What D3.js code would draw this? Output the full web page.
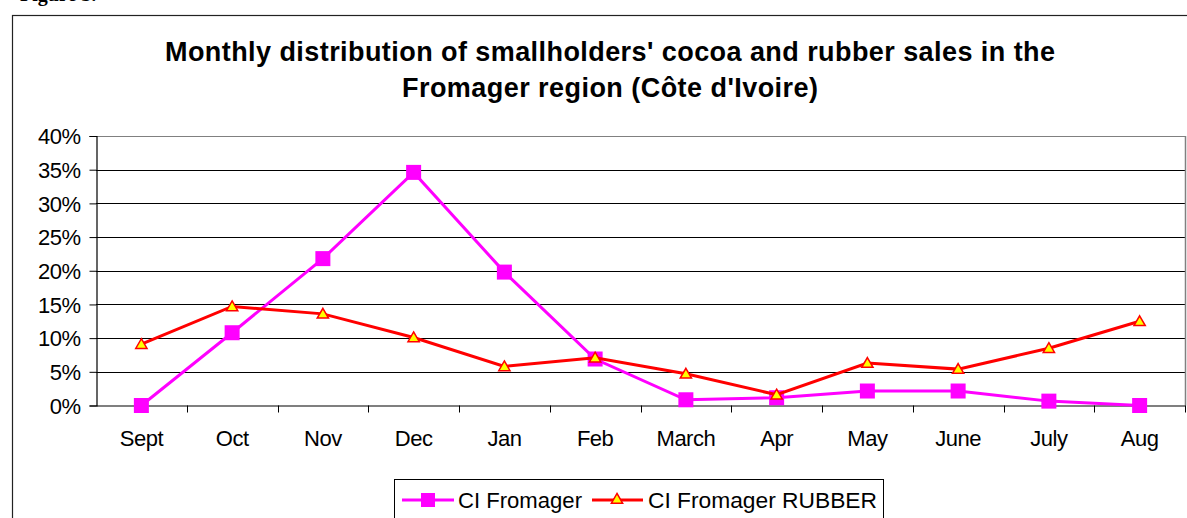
<!DOCTYPE html>
<html><head><meta charset="utf-8">
<script src="https://cdn.jsdelivr.net/npm/d3@7"></script>
<style>
html,body{margin:0;padding:0;background:#fff;overflow:hidden}
text{font-family:"Liberation Sans",Arial,sans-serif}
</style></head>
<body>
<svg id="c" width="1187" height="518"></svg>
<script>
const months = ["Sept","Oct","Nov","Dec","Jan","Feb","March","Apr","May","June","July","Aug"];
const cocoa  = [0, 10.8, 21.8, 34.6, 19.8, 6.9, 0.85, 1.15, 2.15, 2.15, 0.65, 0];
const rubber = [9.1, 14.7, 13.6, 10.1, 5.8, 7.1, 4.7, 1.6, 6.3, 5.4, 8.5, 12.5];
const yTicks = [0,5,10,15,20,25,30,35,40];
const seriesNames = ["CI Fromager","CI Fromager RUBBER"];
const titleLines = ["Monthly distribution of smallholders' cocoa and rubber sales in the","Fromager region (Côte d'Ivoire)"];

const svg = d3.select("#c");
const L = 96, R = 1185, T = 136, B = 405.5;

// Figure caption (cut off at top in the original)
svg.append("text").attr("x",20).attr("y",1)
  .style("font-family","'Liberation Serif',serif").style("font-weight","bold").style("font-size","20px")
  .text("Figure 3.");

// outer chart border
svg.append("rect").attr("x",12.5).attr("y",15.5).attr("width",1200).attr("height",600)
  .attr("fill","none").attr("stroke","#222").attr("stroke-width",1.2);

// title
const tl = [{t:titleLines[0],y:61,x0:165,x1:1055},{t:titleLines[1],y:97,x0:402,x1:818}];
tl.forEach(d=>{
  svg.append("text").attr("x",d.x0).attr("y",d.y)
    .attr("textLength",d.x1-d.x0).attr("lengthAdjust","spacing")
    .style("font-weight","bold").style("font-size","27px").text(d.t);
});

const x = d3.scaleBand().domain(months).range([L,R]);
const y = d3.scaleLinear().domain([0,40]).range([B,T]);

// gridlines
svg.append("g").selectAll("line").data(yTicks.slice(1)).join("line")
  .attr("x1",L).attr("x2",R).attr("y1",d=>Math.round(y(d))+0.5).attr("y2",d=>Math.round(y(d))+0.5)
  .attr("stroke",d=>d===40?"#808080":"#000").attr("stroke-width",1);
// right border of plot area
svg.append("line").attr("x1",R+0.5).attr("x2",R+0.5).attr("y1",T).attr("y2",B)
  .attr("stroke","#808080").attr("stroke-width",1.5);

// y axis
const ya = svg.append("g").attr("transform",`translate(${L+0.5},0)`)
  .call(d3.axisLeft(y).tickValues(yTicks).tickSize(7).tickPadding(9).tickFormat(d=>d+"%"));
ya.select(".domain").attr("stroke","#000").attr("stroke-width",1.2);
ya.selectAll(".tick line").attr("stroke","#000");
ya.selectAll(".tick text").style("font-size","22px").attr("fill","#000").attr("dy","0.35em")
  .style("letter-spacing","-0.5px");

// x axis
const xa = svg.append("g").attr("transform",`translate(0,${B})`)
  .call(d3.axisBottom(x).tickSize(0).tickPadding(25));
xa.select(".domain").attr("stroke","#000").attr("stroke-width",1.2);
xa.selectAll(".tick text").style("font-size","22px").attr("fill","#000").style("letter-spacing","-0.5px");
// category boundary ticks
svg.append("g").selectAll("line").data(months.slice(1).concat(["end"])).join("line")
  .attr("x1",(d,i)=>Math.round(L+x.step()*(i+1))+0.5).attr("x2",(d,i)=>Math.round(L+x.step()*(i+1))+0.5)
  .attr("y1",B).attr("y2",B+7).attr("stroke","#000");

const cx = i => x(months[i]) + x.bandwidth()/2;
const line = d3.line().x((d,i)=>cx(i)).y(d=>y(d));

const tri = d3.symbol().type(d3.symbolTriangle).size(55);

function drawCocoa(g){
  g.append("path").datum(cocoa).attr("d",line).attr("fill","none").attr("stroke","#FF00FF").attr("stroke-width",3);
  g.selectAll("rect").data(cocoa).join("rect")
    .attr("x",(d,i)=>cx(i)-7.5).attr("y",d=>y(d)-7.5).attr("width",15).attr("height",15).attr("fill","#FF00FF");
}
function drawRubber(g){
  g.append("path").datum(rubber).attr("d",line).attr("fill","none").attr("stroke","#FF0000").attr("stroke-width",3);
  g.selectAll("path.m").data(rubber).join("path").attr("class","m")
    .attr("d",tri).attr("transform",(d,i)=>`translate(${cx(i)},${y(d)+1})`)
    .attr("fill","#FFFF00").attr("stroke","#FF0000").attr("stroke-width",1.5);
}
drawCocoa(svg.append("g"));
drawRubber(svg.append("g"));

// legend
const lg = svg.append("g");
lg.append("rect").attr("x",394.5).attr("y",479.5).attr("width",489).attr("height",60)
  .attr("fill","#fff").attr("stroke","#000").attr("stroke-width",1);
const ly = 500;
lg.append("line").attr("x1",402).attr("x2",454).attr("y1",ly).attr("y2",ly).attr("stroke","#FF00FF").attr("stroke-width",3);
lg.append("rect").attr("x",428-7).attr("y",ly-7).attr("width",14).attr("height",14).attr("fill","#FF00FF");
lg.append("text").attr("x",458).attr("y",ly+8).attr("textLength",124).attr("lengthAdjust","spacingAndGlyphs")
  .style("font-size","22px").text(seriesNames[0]);
lg.append("line").attr("x1",592).attr("x2",643).attr("y1",ly).attr("y2",ly).attr("stroke","#FF0000").attr("stroke-width",3);
lg.append("path").attr("d",tri).attr("transform",`translate(617,${ly})`)
  .attr("fill","#FFFF00").attr("stroke","#FF0000").attr("stroke-width",1.5);
lg.append("text").attr("x",648).attr("y",ly+8).attr("textLength",229).attr("lengthAdjust","spacingAndGlyphs")
  .style("font-size","22px").text(seriesNames[1]);
</script>
</body></html>
